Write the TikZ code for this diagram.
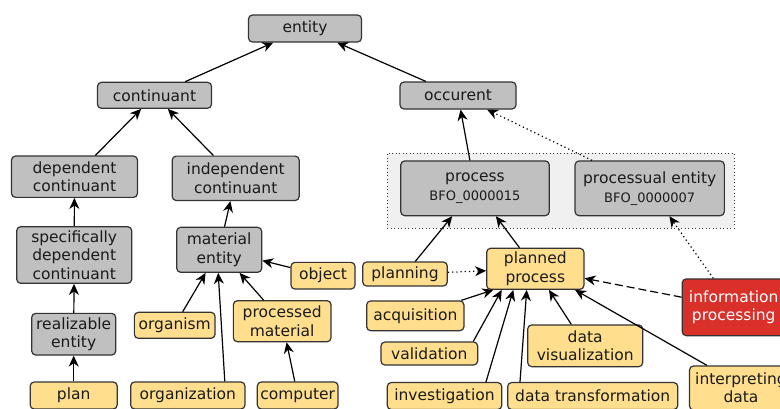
\documentclass[tikz,border=0pt]{standalone}
\usepackage{fontspec}
\setmainfont{DejaVu Sans}
\usetikzlibrary{arrows.meta}
\definecolor{bgray}{HTML}{C0C0C0}
\definecolor{byellow}{HTML}{FFDF8E}
\definecolor{bred}{HTML}{D9302A}
\definecolor{bline}{HTML}{333333}
\definecolor{grpfill}{HTML}{F0F0F0}
\definecolor{btext}{HTML}{1A1A1A}
\begin{document}
\begin{tikzpicture}[x=1pt,y=-1pt,
  box/.style={draw=bline, line width=1.2pt, rounded corners=4pt, align=center,
    inner xsep=3pt, inner ysep=2pt, font=\fontsize{15.5}{18.3}\selectfont, text=btext},
  gbox/.style={box, fill=bgray},
  ybox/.style={box, fill=byellow},
  rbox/.style={box, fill=bred, text=white},
  sz/.style 2 args={minimum width=#1pt, minimum height=#2pt},
  isa/.style={line width=1.2pt, draw=black, -{Stealth[length=11pt,width=10pt,inset=3.5pt]}},
  dotarr/.style={isa, dash pattern=on 1.2pt off 3pt},
  dasharr/.style={isa, dash pattern=on 8pt off 4pt},
  grp/.style={draw=bline, fill=grpfill, line width=1pt, dash pattern=on 1pt off 2.5pt},
]
\useasboundingbox (0,0) rectangle (780,408);
\clip (0,0) rectangle (780,408);
\fill[white] (0,0) rectangle (780,408);

% group
\node[grp, sz={347}{75}, inner sep=0pt] (grp) at (560.8,190.8) {};

% gray BFO nodes
\node[gbox, sz={113}{27}] (entity) at (305,28.5) {entity};
\node[gbox, sz={114}{26}] (continuant) at (154.5,95.3) {continuant};
\node[gbox, sz={116}{27}] (occurent) at (458,95.5) {occurent};
\node[gbox, sz={126}{41.3}] (depcont) at (74.5,176.7) {dependent\\continuant};
\node[gbox, sz={127}{44.4}] (indepcont) at (235.7,178.3) {independent\\continuant};
\node[gbox, sz={115}{56.6}] (specdep) at (74.2,255) {specifically\\dependent\\continuant};
\node[gbox, sz={84}{41.7}] (realizable) at (73.7,334.2) {realizable\\entity};
\node[gbox, sz={85}{45}] (matent) at (219.2,249.8) {material\\entity};
\node[gbox, sz={148.6}{54.7}] (process) at (475,188.3) {process\\[1pt]{\fontsize{13}{15}\selectfont BFO\_0000015}};
\node[gbox, sz={149.3}{54.7}] (procent) at (649.7,188.3) {processual entity\\[1pt]{\fontsize{13}{15}\selectfont BFO\_0000007}};

% yellow nodes
\node[ybox, sz={87}{27}] (plan) at (73.7,395.5) {plan};
\node[ybox, sz={64}{26.7}] (object) at (323,275.7) {object};
\node[ybox, sz={80.7}{26}] (organism) at (174.7,325.3) {organism};
\node[ybox, sz={97.7}{41}] (procmat) at (282.2,321.2) {processed\\material};
\node[ybox, sz={114.3}{27}] (organization) at (187.8,395.5) {organization};
\node[ybox, sz={80}{27}] (computer) at (297.7,395.5) {computer};
\node[ybox, sz={97.3}{41}] (planned) at (535.3,268.8) {planned\\process};
\node[ybox, sz={84.6}{24}] (planning) at (405,274) {planning};
\node[ybox, sz={97.3}{29.7}] (acquisition) at (415.3,315.8) {acquisition};
\node[ybox, sz={96.7}{23}] (validation) at (429.3,353.5) {validation};
\node[ybox, sz={114.4}{27}] (investigation) at (444.5,396) {investigation};
\node[ybox, sz={115}{41.7}] (datavis) at (585.2,345.8) {data\\visualization};
\node[ybox, sz={170}{27}] (datatrans) at (592.7,396) {data transformation};
\node[ybox, sz={103}{44}] (interp) at (741,388) {interpreting\\data};
\node[rbox, sz={103}{56.7}] (infoproc) at (733.7,307.3) {information\\processing};

% edges
\draw[isa] (continuant) -- (entity);
\draw[isa] (occurent) -- (entity);
\draw[isa] (depcont) -- (continuant);
\draw[isa] (indepcont) -- (continuant);
\draw[isa] (specdep) -- (depcont);
\draw[isa] (realizable) -- (specdep);
\draw[isa] (plan) -- (realizable);
\draw[isa] (matent) -- (indepcont);
\draw[isa] (object) -- (matent);
\draw[isa] (organism) -- (matent);
\draw[isa] ([xshift=37pt]organization.north) -- ([xshift=-1pt]matent.south);
\draw[isa] (procmat) -- (matent);
\draw[isa] (computer) -- (procmat);
\draw[isa] (process) -- (occurent);
\draw[dotarr] (procent) -- (occurent);
\draw[isa] (planned) -- (process);
\draw[isa] (planning) -- (process);
\draw[dotarr] (planning) -- (planned);
\draw[isa] ([xshift=46pt]acquisition.north) -- ([xshift=-42pt]planned.south);
\draw[isa] ([xshift=44pt]validation.north) -- ([xshift=-33.6pt]planned.south);
\draw[isa] ([xshift=41.5pt]investigation.north) -- ([xshift=-22pt]planned.south);
\draw[isa] ([xshift=-72.7pt]datatrans.north) -- ([xshift=-8.6pt]planned.south);
\draw[isa] (datavis) -- (planned);
\draw[isa] ([xshift=-34pt]interp.north) -- ([xshift=39.7pt]planned.south);
\draw[dasharr] (infoproc) -- (planned);
\draw[dotarr] (infoproc) -- (procent);
\end{tikzpicture}
\end{document}
